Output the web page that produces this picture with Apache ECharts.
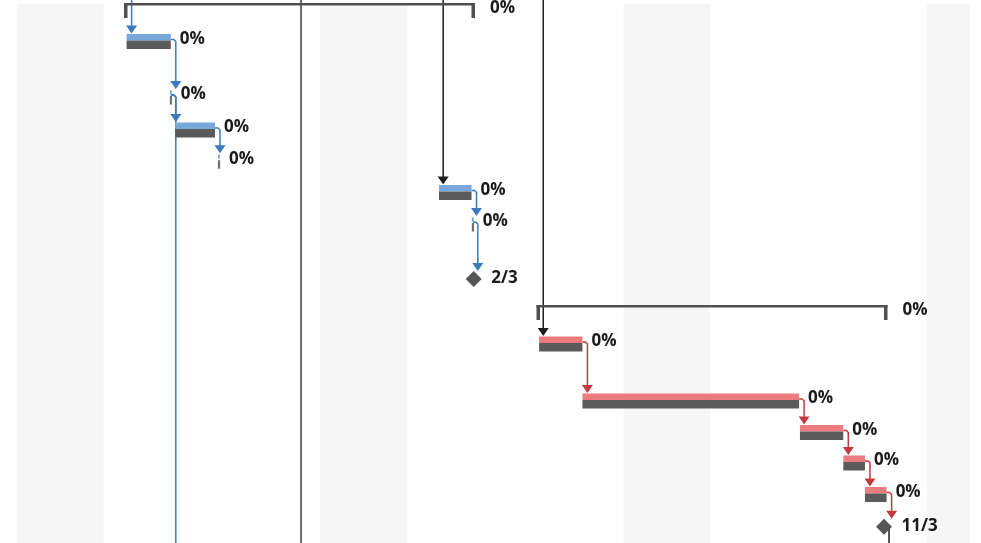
<!DOCTYPE html>
<html>
<head>
<meta charset="utf-8">
<script src="https://cdn.jsdelivr.net/npm/echarts@6/dist/echarts.min.js"></script>
<style>
html,body{margin:0;padding:0;background:#fff;}
#chart{width:981px;height:543px;}
</style>
</head>
<body>
<div id="chart"></div>
<script>
// ---- Data (time in days from the first visible Saturday, rows in row units) ----
const nonWorkingStart = [0, 7, 14, 21];
const nonWorkingEnd   = [2, 9, 16, 22];

const summaryStart = [2.47, 11.99];
const summaryEnd   = [10.57, 20.09];
const summaryRow   = [0.334, 9.952];
const summaryLabel = ['0%', '0%'];

const taskStart = [2.53, 3.65, 9.74, 12.05, 13.05, 18.07, 19.07, 19.57];
const taskEnd   = [3.55, 4.57, 10.49, 13.05, 18.05, 19.07, 19.57, 20.07];
const taskRow   = [1.322, 4.140, 6.131, 10.955, 12.771, 13.774, 14.745, 15.748];
const taskGroup = [0, 0, 0, 1, 1, 1, 1, 1];
const taskLabel = ['0%', '0%', '0%', '0%', '0%', '0%', '0%', '0%'];

const tickAt    = [3.55, 4.66, 10.52];
const tickRow   = [3.089, 5.134, 7.134];
const tickGroup = [0, 0, 0];
const tickLabel = ['0%', '0%', '0%'];

const milestoneAt    = [10.54, 20.01];
const milestoneRow   = [8.885, 16.774];
const milestoneLabel = ['2/3', '11/3'];

// links: x day, source row (-1 = above view), target row (99 = below view), colour group
const linkDay   = [2.53, 3.55, 3.55, 3.55, 4.57, 9.72, 10.49, 10.52, 6.44, 12.03, 13.05, 18.05, 19.07, 19.57, 20.07, 20.01];
const linkFrom  = [-1, 1.322, 3.089, 3.089, 4.140, -1, 6.131, 7.134, -1, -1, 10.955, 12.771, 13.774, 14.745, 15.748, 16.774];
const linkTo    = [1.322, 3.089, 4.140, 99, 5.134, 6.131, 7.134, 8.885, 99, 10.955, 12.771, 13.774, 14.745, 15.748, 16.774, 99];
const linkGroup = [0, 0, 0, 0, 0, 2, 0, 0, 3, 2, 1, 1, 1, 1, 1, 2];

// ---- Styles ----
const barColors  = ['#79a7da', '#ea7b7f'];
const linkColors = ['#3a7bbd', '#c23a3f', '#1e1e1e', '#3c3c3c'];
const baseGrey = '#5a5a5a';
const summaryGrey = '#505050';
const font = 'bold 17px "Open Sans", "Noto Sans", sans-serif';
const textColor = '#1a1a1a';

const chart = echarts.init(document.getElementById('chart'), null, {renderer: 'canvas'});

function label(x, y, t) {
  return {type: 'text', x: x, y: y, style: {text: t, font: font, fill: textColor, align: 'left', verticalAlign: 'middle'}};
}

const option = {
  animation: false,
  backgroundColor: '#ffffff',
  grid: {left: 0, right: 0, top: 0, bottom: 0},
  xAxis: {type: 'value', min: -0.392, max: 22.248, show: false},
  yAxis: {type: 'value', min: 0, max: 17.293, inverse: true, show: false},
  series: [
    {
      type: 'custom', z: 1, clip: true,
      data: nonWorkingStart.map((s, i) => [s, nonWorkingEnd[i]]),
      renderItem(params, api) {
        const cs = params.coordSys;
        const x0 = api.coord([api.value(0), 0])[0];
        const x1 = api.coord([api.value(1), 0])[0];
        return {type: 'rect', shape: {x: x0, y: cs.y + 4, width: x1 - x0, height: cs.height - 4}, style: {fill: '#f6f6f6'}};
      }
    },
    {
      type: 'custom', z: 2, clip: true,
      data: linkDay.map((d, i) => [d, linkFrom[i], linkTo[i], linkGroup[i]]),
      renderItem(params, api) {
        const cs = params.coordSys;
        const day = api.value(0), fr = api.value(1), to = api.value(2), g = api.value(3);
        const col = linkColors[g];
        const xs = api.coord([day, 0])[0];
        const xv = xs + 5;
        const children = [];
        let pts;
        if (fr < 0) {
          pts = [[xv, cs.y - 5]];
        } else {
          const yr = api.coord([day, fr])[1] - 2;
          pts = [[xs, yr], [xv - 2, yr], [xv, yr + 2]];
        }
        if (to > 50) {
          pts.push([xv, cs.y + cs.height + 5]);
        } else {
          const tip = api.coord([day, to])[1] - 8;
          pts.push([xv, tip - 7]);
          children.push({type: 'polygon', shape: {points: [[xv - 5.5, tip - 8], [xv + 5.5, tip - 8], [xv, tip]]}, style: {fill: col}});
        }
        children.push({type: 'polyline', shape: {points: pts}, style: {stroke: col, lineWidth: 1.5, fill: null}});
        return {type: 'group', children: children};
      }
    },
    {
      type: 'custom', z: 3, clip: true,
      data: summaryStart.map((s, i) => [s, summaryEnd[i], summaryRow[i], i]),
      renderItem(params, api) {
        const i = api.value(3);
        const p0 = api.coord([api.value(0), api.value(2)]);
        const p1 = api.coord([api.value(1), api.value(2)]);
        const top = p0[1] - 7.5;
        return {type: 'group', children: [
          {type: 'rect', shape: {x: p0[0], y: top, width: p1[0] - p0[0], height: 2.5}, style: {fill: summaryGrey}},
          {type: 'rect', shape: {x: p0[0], y: top, width: 3.5, height: 15}, style: {fill: summaryGrey}},
          {type: 'rect', shape: {x: p1[0] - 3.5, y: top, width: 3.5, height: 15}, style: {fill: summaryGrey}},
          label(p1[0] + 15, p0[1] - 2.5, summaryLabel[i])
        ]};
      }
    },
    {
      type: 'custom', z: 4, clip: true,
      data: taskStart.map((s, i) => [s, taskEnd[i], taskRow[i], i]),
      renderItem(params, api) {
        const i = api.value(3);
        const p0 = api.coord([api.value(0), api.value(2)]);
        const p1 = api.coord([api.value(1), api.value(2)]);
        const top = p0[1] - 7.5, w = p1[0] - p0[0];
        return {type: 'group', children: [
          {type: 'rect', shape: {x: p0[0], y: top, width: w, height: 6.5}, style: {fill: barColors[taskGroup[i]]}},
          {type: 'rect', shape: {x: p0[0], y: top + 6.5, width: w, height: 8.5}, style: {fill: baseGrey}},
          label(p1[0] + 9, p0[1] - 2.5, taskLabel[i])
        ]};
      }
    },
    {
      type: 'custom', z: 4, clip: true,
      data: tickAt.map((s, i) => [s, tickRow[i], i]),
      renderItem(params, api) {
        const i = api.value(2);
        const p = api.coord([api.value(0), api.value(1)]);
        const top = p[1] - 7.5;
        return {type: 'group', children: [
          {type: 'rect', shape: {x: p[0] - 1, y: top + 1, width: 2, height: 4}, style: {fill: barColors[tickGroup[i]]}},
          {type: 'rect', shape: {x: p[0] - 1, y: top + 6.5, width: 2.2, height: 8.5}, style: {fill: '#707070'}},
          label(p[0] + 10, p[1] - 2.5, tickLabel[i])
        ]};
      }
    },
    {
      type: 'custom', z: 4, clip: true,
      data: milestoneAt.map((s, i) => [s, milestoneRow[i], i]),
      renderItem(params, api) {
        const i = api.value(2);
        const p = api.coord([api.value(0), api.value(1)]);
        return {type: 'group', children: [
          {type: 'polygon', shape: {points: [[p[0], p[1] - 8], [p[0] + 8, p[1]], [p[0], p[1] + 8], [p[0] - 8, p[1]]]}, style: {fill: '#555555'}},
          label(p[0] + 17.5, p[1] - 1, milestoneLabel[i])
        ]};
      }
    }
  ]
};
chart.setOption(option);
</script>
</body>
</html>
